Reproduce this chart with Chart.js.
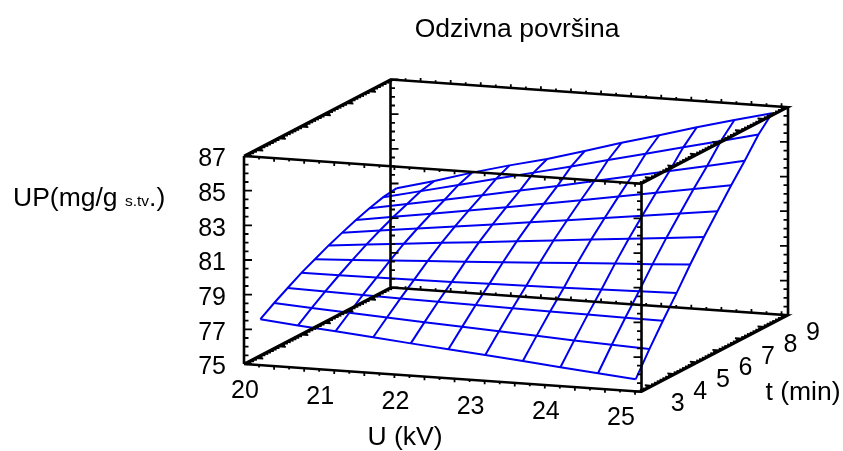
<!DOCTYPE html>
<html>
<head>
<meta charset="utf-8">
<style>html,body{margin:0;padding:0;background:#fff}canvas{display:block}</style>
<script src="https://cdn.jsdelivr.net/npm/chart.js@4"></script>
</head>
<body>
<canvas id="c" width="843" height="451"></canvas>
<script>
const titleText = "Odzivna površina";
const uAxisName = "U (kV)";
const tAxisName = "t (min)";
const upAxisParts = [["UP(mg/g ", 26.5], ["s.tv", 15.5], [".)", 26.5]];
const uTicks = [20, 21, 22, 23, 24, 25];
const tTicks = [3, 4, 5, 6, 7, 8, 9];
const upTicks = [75, 77, 79, 81, 83, 85, 87];
const uRange = [20, 25.286];
const tRange = [2.5, 9];
const upRange = [75, 87];
const uGrid = [20.14, 20.64, 21.14, 21.64, 22.14, 22.64, 23.13, 23.63, 24.13, 24.63, 25.13];
const tGrid = [2.76, 3.37, 3.97, 4.58, 5.18, 5.79, 6.39, 7, 7.6, 8.21, 8.81];
const upT0 = [77.45,77.24,77.06,76.86,76.66,76.47,76.29,76.09,75.88,75.69,75.49];
const upT1 = [77.97,77.84,77.71,77.59,77.47,77.35,77.24,77.13,77.02,76.92,76.82];
const upT2 = [78.43,78.38,78.33,78.28,78.24,78.20,78.16,78.13,78.10,78.07,78.05];
const upT3 = [78.89,78.90,78.92,78.95,78.97,79.01,79.05,79.09,79.13,79.19,79.24];
const upT4 = [79.27,79.38,79.50,79.62,79.73,79.85,79.97,80.10,80.22,80.34,80.47];
const upT5 = [79.65,79.85,80.05,80.25,80.44,80.64,80.84,81.04,81.24,81.44,81.64];
const upT6 = [79.98,80.25,80.52,80.79,81.06,81.33,81.60,81.88,82.16,82.44,82.72];
const upT7 = [80.30,80.63,80.96,81.30,81.64,81.99,82.34,82.70,83.07,83.44,83.81];
const upT8 = [80.56,80.96,81.36,81.77,82.19,82.61,83.04,83.48,83.92,84.36,84.81];
const upT9 = [80.79,81.29,81.80,82.30,82.81,83.32,83.84,84.35,84.87,85.39,85.91];
const upT10 = [80.90,81.47,82.10,82.67,83.19,83.80,84.43,85.01,85.62,86.19,86.73];
const upRows = [upT0, upT1, upT2, upT3, upT4, upT5, upT6, upT7, upT8, upT9, upT10];

const pxPerU = 75.2, pxPerUP = 17.333;
const xPerT = 22.54 / pxPerU, yPerT = 11.77 / pxPerUP, yPerU = 5.24 / pxPerUP;
const P = (u, t, z) => ({
  x: u + (t - tRange[0]) * xPerT,
  y: z - (u - uRange[0]) * yPerU + (t - tRange[0]) * yPerT
});
const GAP = { x: NaN, y: NaN };
const [u0, u1] = uRange, [t0, t1] = tRange, [z0, z1] = upRange;

const meshLines = [];
upRows.forEach((row, j) => meshLines.push(row.map((z, i) => P(uGrid[i], tGrid[j], z))));
uGrid.forEach((u, i) => meshLines.push(tGrid.map((t, j) => P(u, t, upRows[j][i]))));

const edges = [
  P(u0,t0,z0),P(u1,t0,z0),P(u1,t1,z0),P(u0,t1,z0),P(u0,t0,z0),GAP,
  P(u0,t0,z1),P(u1,t0,z1),P(u1,t1,z1),P(u0,t1,z1),P(u0,t0,z1),GAP,
  P(u0,t0,z0),P(u0,t0,z1),GAP,P(u1,t0,z0),P(u1,t0,z1),GAP,
  P(u1,t1,z0),P(u1,t1,z1),GAP,P(u0,t1,z0),P(u0,t1,z1)
];

const tickMarks = [];
function addTick(p, dxPx, dyPx) {
  tickMarks.push(p, { x: p.x + dxPx / pxPerU, y: p.y - dyPx / pxPerUP }, GAP);
}
// vertical edges
[[u0,t0,1],[u0,t1,1],[u1,t0,-1],[u1,t1,-1]].forEach(([u,t,s]) => {
  for (let z = z0; z <= z1 + 1e-6; z += 0.5) {
    const major = Math.abs((z - z0) % 2) < 1e-6;
    addTick(P(u,t,z), s * (major ? 8 : 4.5), 0);
  }
});
// edges running along U
[[t0,z0,1],[t0,z1,1],[t1,z1,-1],[t1,z0,-1]].forEach(([t,z,s]) => {
  for (let k = 1; u0 + k * 0.2 < u1; k++) {
    addTick(P(u0 + k * 0.2, t, z), 0, s * (k % 2 ? 2.4 : 3.6));
  }
});
// edges running along t
[[u0,z0,1],[u0,z1,1],[u1,z0,-1],[u1,z1,-1]].forEach(([u,z,s]) => {
  for (let k = 0; t0 + k * 0.125 <= t1; k++) {
    const major = k % 8 === 4;
    addTick(P(u, t0 + k * 0.125, z), s * (major ? 8 : 4.5), s * (major ? 0.6 : 0.3));
  }
});

const black = "#000000", blue = "#0000f0";
const datasets = [
  { data: edges, borderColor: black, borderWidth: 2.6 },
  { data: tickMarks, borderColor: black, borderWidth: 1.8 }
].concat(meshLines.map(d => ({ data: d, borderColor: blue, borderWidth: 2 })));
datasets.forEach(d => { d.showLine = true; d.pointRadius = 0; d.clip = false; d.tension = 0; d.spanGaps = false; });

const FONT = '"Liberation Sans", Arial, sans-serif';
const textPlugin = {
  id: "texts",
  afterDraw(chart) {
    const { ctx, scales: { x, y } } = chart;
    const at = (p) => [x.getPixelForValue(p.x), y.getPixelForValue(p.y)];
    ctx.save();
    ctx.fillStyle = black;
    ctx.textAlign = "center";
    ctx.textBaseline = "middle";
    ctx.font = "25px " + FONT;
    uTicks.forEach(u => {
      const [a, b] = at(P(u, t0, z0));
      ctx.fillText(String(u), a + 1, b + 27.5);
    });
    tTicks.forEach(t => {
      const [a, b] = at(P(u1, t, z0));
      ctx.fillText(String(t), a + 25, b + 18);
    });
    ctx.font = "26.5px " + FONT;
    ctx.fillText(titleText, 517, 30);
    ctx.fillText(uAxisName, 405, 438);
    ctx.fillText(tAxisName, 803, 392.5);
    ctx.textAlign = "left";
    ctx.textBaseline = "alphabetic";
    let cx = 13;
    upAxisParts.forEach(([s, size]) => {
      ctx.font = size + "px " + FONT;
      ctx.fillText(s, cx, 206);
      cx += ctx.measureText(s).width;
    });
    ctx.restore();
  }
};

new Chart(document.getElementById("c"), {
  type: "scatter",
  data: { datasets },
  plugins: [textPlugin],
  options: {
    responsive: false,
    animation: false,
    devicePixelRatio: 1,
    layout: { padding: { left: 0, top: 156, right: 0, bottom: 451 - 364 } },
    plugins: { legend: { display: false }, tooltip: { enabled: false }, title: { display: false } },
    scales: {
      x: { type: "linear", display: false, min: uRange[0], max: uRange[0] + (843 - 244) / pxPerU },
      y: {
        type: "linear", position: "left", min: upRange[0], max: upRange[1],
        afterFit(s) { s.width = 244; },
        afterBuildTicks(s) { s.ticks = upTicks.map(v => ({ value: v })); },
        grid: { display: false, drawTicks: false },
        border: { display: false },
        ticks: { color: black, padding: 18, labelOffset: 3.5, autoSkip: false, font: { family: FONT, size: 25 } }
      }
    }
  }
});
</script>
</body>
</html>
